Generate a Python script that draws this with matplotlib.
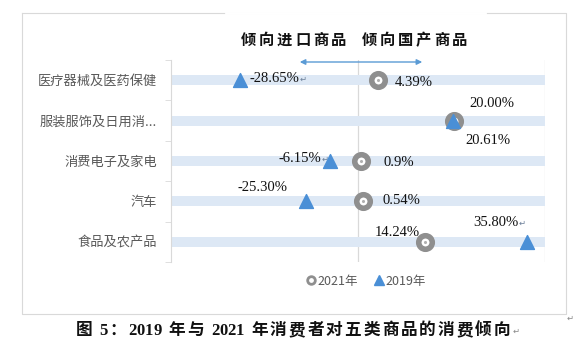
import numpy as np
import matplotlib
matplotlib.use('Agg')
import matplotlib.pyplot as plt
from matplotlib.lines import Line2D
from matplotlib.patches import FancyArrowPatch

categories = ['医疗器械及医药保健', '服装服饰及日用消...', '消费电子及家电', '汽车', '食品及农产品']
# marker positions (%)
vals_2021 = [4.2, 20.6, 0.7, 1.0, 14.3]
vals_2019 = [-25.3, 20.3, -6.0, -11.2, 36.1]
# label texts as printed on the chart
labels_2021 = ['4.39%', '20.00%', '0.9%', '0.54%', '14.24%']
labels_2019 = ['-28.65%', '20.61%', '-6.15%', '-25.30%', '35.80%']
return_mark_2019 = [True, False, True, False, True]
# label offsets in points (dx, dy, ha)
offs_2021 = [(12, -2, 'left'), (11, 12, 'left'), (16, -1, 'left'), (14, 1, 'left'), (-20, 7, 'center')]
offs_2019 = [(7, 1, 'left'), (9, -14, 'left'), (-6, 2, 'right'), (-31, 10, 'center'), (-22, 14, 'center')]

cjk = 'Noto Sans CJK SC'
serif = ['Liberation Serif', 'DejaVu Sans']
blue = '#4a8fd6'
grey_ring = '#8f8f8f'

fig = plt.figure(figsize=(5.86, 3.5), dpi=100)
W, H = 586, 350

def fx(px):
    return px / W

def fy(py):
    return 1 - py / H

def spaced_text(xc, y_base, s, size, extra, latin_family, weight='bold', color='#111111'):
    # draw char by char so CJK glyphs get the wide Word-style spacing
    r = fig.canvas.get_renderer()
    em = size * 100 / 72
    widths = []
    for ch in s:
        if ch == ' ':
            widths.append(em * 0.3)
        elif ord(ch) > 127:
            widths.append(em)
        else:
            t = fig.text(0, 0, ch, fontsize=size, family=latin_family, fontweight=weight)
            widths.append(t.get_window_extent(r).width)
            t.remove()
    gaps = [extra if (ord(a) > 127 or ord(b) > 127) else 0 for a, b in zip(s[:-1], s[1:])]
    total = sum(widths) + sum(gaps)
    x = xc - total / 2
    for i, ch in enumerate(s):
        if ch != ' ':
            fam = cjk if ord(ch) > 127 else latin_family
            fig.text(fx(x), fy(y_base), ch, fontsize=size, family=fam, fontweight=weight,
                     color=color, ha='left', va='baseline')
        x += widths[i] + (gaps[i] if i < len(gaps) else 0)
    return x

ax = fig.add_axes([fx(171), fy(262), fx(545) - fx(171), fy(60) - fy(262)])
n = len(categories)
ypos = np.arange(n)[::-1]

ax.set_xlim(-40, 40)
ax.set_ylim(-0.5, n - 0.5)

# light bands behind each row
ax.barh(ypos, [80] * n, left=-40, height=0.25, color='#dde8f5', zorder=1)

for x in [0, 40]:
    ax.axvline(x, color='#d9d9d9', lw=0.9, zorder=0.5)

ax.scatter(vals_2021, ypos, s=95, facecolor='white', edgecolor=grey_ring, linewidth=4, zorder=3)
ax.scatter(vals_2021, ypos, s=1.5, color='#b0b0b0', zorder=3.5)
ax.scatter(vals_2019, ypos, s=100, marker='^', color=blue, zorder=4)

for i in range(n):
    dx, dy, ha = offs_2021[i]
    ax.annotate(labels_2021[i], (vals_2021[i], ypos[i]), xytext=(dx, dy), textcoords='offset points',
                ha=ha, va='center', fontsize=10.5, family=serif, color='#111111', zorder=5)
    dx, dy, ha = offs_2019[i]
    t = ax.annotate(labels_2019[i], (vals_2019[i], ypos[i]), xytext=(dx, dy), textcoords='offset points',
                    ha=ha, va='center', fontsize=10.5, family=serif, color='#111111', zorder=5)
    if return_mark_2019[i]:
        ax.annotate('\u21b5', (1, 0.45), xycoords=t, ha='left', va='center',
                    fontsize=6, family='DejaVu Sans', color='#6b7f99')

ax.set_yticks(ypos)
ax.set_yticklabels(categories, fontsize=9.5, family=cjk, color='#595959')
ax.tick_params(axis='y', which='major', length=0, pad=10)
ax.set_yticks(np.arange(n + 1) - 0.5, minor=True)
ax.tick_params(axis='y', which='minor', length=4, color='#d9d9d9')
ax.set_xticks([])
for side in ['top', 'right', 'bottom']:
    ax.spines[side].set_visible(False)
ax.spines['left'].set_color('#d9d9d9')

# title and direction arrow
spaced_text(354, 45, '倾向进口商品  倾向国产商品', 11, 2.8, 'DejaVu Sans')
fig.add_artist(FancyArrowPatch((fx(297), fy(62)), (fx(425), fy(62)),
               transform=fig.transFigure, arrowstyle='<|-|>', mutation_scale=8,
               color='#5b9bd5', lw=1))

# legend
handles = [Line2D([], [], marker='o', ls='', markersize=5.5, markerfacecolor='white',
                  markeredgecolor=grey_ring, markeredgewidth=2),
           Line2D([], [], marker='^', ls='', markersize=6.5, color=blue)]
fig.legend(handles, ['2021年', '2019年'], loc='center', bbox_to_anchor=(fx(366), fy(281)),
           ncol=2, frameon=False, prop={'family': cjk, 'size': 9}, labelcolor='#595959',
           handletextpad=0.1, columnspacing=1.3, handlelength=0.8)

# chart border with gap behind the title
bc = '#d9d9d9'
fig.add_artist(Line2D([fx(22), fx(22), fx(566), fx(566), fx(22)],
                      [fy(13), fy(314), fy(314), fy(13), fy(13)], color=bc, lw=0.8))
fig.add_artist(Line2D([fx(226), fx(485)], [fy(13), fy(13)], color='white', lw=2))
fig.text(fx(570), fy(318), '\u21b5', fontsize=6, color='#888888', ha='center', va='center')

# caption
x_end = spaced_text(293, 335, '图 5：2019 年与 2021 年消费者对五类商品的消费倾向', 12, 2,
                    'Liberation Serif')
fig.text(fx(x_end + 2), fy(331), '\u21b5', fontsize=6, color='#888888', ha='left', va='center')

fig.savefig('out.png', dpi=100, facecolor='white')
